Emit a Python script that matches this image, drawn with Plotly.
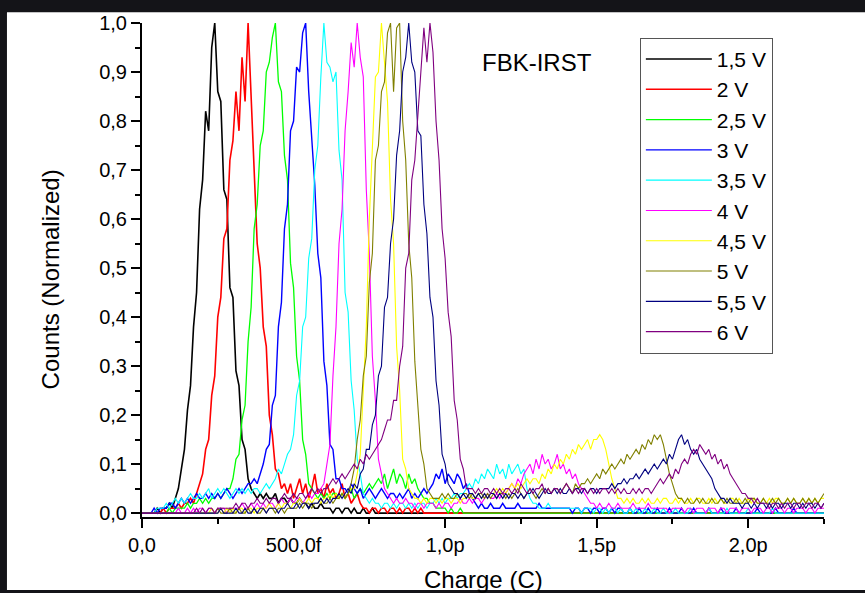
import plotly.graph_objects as go

# Charge bins (fC), 10 fC wide, 0 .. 2250 fC
charge_fC = list(range(0, 2260, 10))

# Normalized counts x100 (one row = 100 fC)
counts_1v5 = [
    0, 0, 0, 0, 0, 1, 0, 1, 1, 2,
    1, 3, 5, 9, 13, 21, 26, 38, 45, 62,
    68, 82, 78, 95, 100, 86, 84, 66, 64, 46,
    44, 29, 26, 15, 13, 7, 5, 4, 3, 4,
    3, 4, 3, 3, 4, 2, 3, 3, 2, 3,
    2, 2, 3, 2, 2, 1, 2, 1, 1, 2,
    1, 1, 1, 0, 1, 1, 0, 1, 1, 0,
    1, 0, 0, 1, 0, 0, 1, 0, 0, 0,
    0, 0, 0, 0, 0, 0, 0, 0, 0, 0,
    0, 0, 0, 0, 0, 0, 0, 0, 0, 0,
    0, 0, 0, 0, 0, 0, 0, 0, 0, 0,
    0, 0, 0, 0, 0, 0, 0, 0, 0, 0,
    0, 0, 0, 0, 0, 0, 0, 0, 0, 0,
    0, 0, 0, 0, 0, 0, 0, 0, 0, 0,
    0, 0, 0, 0, 0, 0, 0, 0, 0, 0,
    0, 0, 0, 0, 0, 0, 0, 0, 0, 0,
    0, 0, 0, 0, 0, 0, 0, 0, 0, 0,
    0, 0, 0, 0, 0, 0, 0, 0, 0, 0,
    0, 0, 0, 0, 0, 0, 0, 0, 0, 0,
    0, 0, 0, 0, 0, 0, 0, 0, 0, 0,
    0, 0, 0, 0, 0, 0, 0, 0, 0, 0,
    0, 0, 0, 0, 0, 0, 0, 0, 0, 0,
    0, 0, 0, 0, 0, 0,
]
counts_2v = [
    0, 0, 0, 0, 0, 0, 0, 1, 0, 1,
    1, 1, 2, 1, 2, 2, 3, 2, 4, 6,
    8, 13, 15, 24, 28, 40, 44, 56, 58, 72,
    76, 86, 78, 93, 84, 100, 85, 72, 55, 50,
    38, 34, 20, 16, 9, 8, 5, 6, 4, 6,
    3, 5, 7, 4, 6, 3, 5, 8, 4, 5,
    3, 6, 4, 5, 3, 4, 6, 3, 4, 2,
    3, 4, 2, 1, 1, 0, 1, 1, 0, 1,
    1, 0, 1, 1, 0, 1, 0, 1, 1, 0,
    1, 0, 1, 0, 0, 0, 0, 0, 0, 0,
    0, 0, 0, 0, 0, 0, 0, 0, 0, 0,
    0, 0, 0, 0, 0, 0, 0, 0, 0, 0,
    0, 0, 0, 0, 0, 0, 0, 0, 0, 0,
    0, 0, 0, 0, 0, 0, 0, 0, 0, 0,
    0, 0, 0, 0, 0, 0, 0, 0, 0, 0,
    0, 0, 0, 0, 0, 0, 0, 0, 0, 0,
    0, 0, 0, 0, 0, 0, 0, 0, 0, 0,
    0, 0, 0, 0, 0, 0, 0, 0, 0, 0,
    0, 0, 0, 0, 0, 0, 0, 0, 0, 0,
    0, 0, 0, 0, 0, 0, 0, 0, 0, 0,
    0, 0, 0, 0, 0, 0, 0, 0, 0, 0,
    0, 0, 0, 0, 0, 0, 0, 0, 0, 0,
    0, 0, 0, 0, 0, 0,
]
counts_2v5 = [
    0, 0, 0, 0, 0, 0, 0, 0, 0, 1,
    0, 1, 1, 1, 1, 2, 1, 2, 2, 3,
    2, 3, 2, 3, 3, 4, 3, 4, 5, 5,
    7, 11, 12, 19, 22, 35, 42, 58, 63, 75,
    78, 90, 92, 97, 100, 88, 86, 73, 68, 51,
    46, 32, 27, 15, 12, 6, 5, 4, 3, 4,
    3, 4, 3, 4, 4, 3, 4, 3, 4, 5,
    3, 4, 5, 4, 5, 6, 5, 6, 7, 6,
    8, 5, 7, 9, 6, 8, 7, 5, 8, 6,
    7, 5, 4, 3, 3, 2, 2, 1, 1, 1,
    1, 0, 1, 0, 0, 1, 0, 0, 0, 0,
    0, 0, 0, 0, 0, 0, 0, 0, 0, 0,
    0, 0, 0, 0, 0, 0, 0, 0, 0, 0,
    0, 0, 0, 0, 0, 0, 0, 0, 0, 0,
    0, 0, 0, 0, 0, 0, 0, 0, 0, 0,
    0, 0, 0, 0, 0, 0, 0, 0, 0, 0,
    0, 0, 0, 0, 0, 0, 0, 0, 0, 0,
    0, 0, 0, 0, 0, 0, 0, 0, 0, 0,
    0, 0, 0, 0, 0, 0, 0, 0, 0, 0,
    0, 0, 0, 0, 0, 0, 0, 0, 0, 0,
    0, 0, 0, 0, 0, 0, 0, 0, 0, 0,
    0, 0, 0, 0, 0, 0, 0, 0, 0, 0,
    0, 0, 0, 0, 0, 0,
]
counts_3v = [
    0, 0, 0, 0, 1, 0, 1, 1, 1, 2,
    2, 1, 2, 3, 2, 3, 2, 3, 4, 3,
    3, 4, 3, 4, 3, 4, 3, 4, 5, 4,
    3, 4, 5, 4, 5, 6, 6, 7, 6, 8,
    10, 13, 14, 22, 24, 38, 43, 58, 63, 78,
    80, 91, 90, 98, 100, 86, 76, 67, 53, 48,
    31, 26, 14, 13, 7, 7, 5, 5, 4, 6,
    5, 4, 5, 3, 4, 5, 4, 3, 4, 5,
    4, 3, 4, 4, 3, 4, 3, 4, 5, 3,
    4, 3, 4, 5, 4, 5, 6, 8, 7, 9,
    6, 8, 7, 6, 8, 7, 5, 6, 4, 3,
    2, 1, 2, 1, 1, 2, 1, 1, 1, 2,
    1, 1, 1, 1, 2, 1, 1, 1, 1, 1,
    1, 2, 1, 1, 1, 1, 1, 1, 1, 1,
    1, 1, 0, 1, 1, 0, 1, 1, 0, 1,
    1, 0, 1, 1, 0, 1, 0, 1, 1, 0,
    0, 1, 0, 0, 1, 0, 0, 1, 0, 0,
    1, 0, 0, 0, 1, 0, 0, 0, 1, 0,
    0, 0, 1, 0, 0, 0, 0, 1, 0, 0,
    0, 1, 0, 0, 0, 0, 1, 0, 0, 0,
    0, 0, 0, 1, 0, 0, 0, 0, 0, 1,
    0, 0, 0, 0, 0, 1, 0, 0, 0, 0,
    0, 0, 0, 0, 0, 0,
]
counts_3v5 = [
    0, 0, 0, 0, 0, 1, 1, 1, 2, 1,
    2, 3, 2, 3, 2, 3, 4, 3, 3, 4,
    3, 4, 5, 3, 4, 5, 4, 5, 4, 3,
    4, 5, 4, 5, 4, 5, 4, 5, 5, 4,
    5, 6, 5, 6, 7, 9, 8, 10, 12, 13,
    16, 24, 27, 38, 40, 52, 56, 70, 75, 89,
    100, 92, 91, 88, 90, 74, 68, 45, 41, 27,
    21, 11, 8, 4, 3, 2, 3, 2, 2, 1,
    2, 2, 1, 2, 1, 2, 2, 1, 2, 1,
    2, 1, 2, 2, 1, 2, 2, 3, 2, 3,
    2, 3, 3, 4, 3, 4, 4, 5, 6, 5,
    7, 6, 8, 7, 9, 8, 7, 10, 8, 9,
    7, 10, 8, 9, 10, 8, 9, 5, 3, 2,
    2, 1, 1, 1, 2, 1, 1, 1, 1, 1,
    1, 1, 1, 1, 1, 0, 1, 1, 1, 0,
    1, 1, 0, 1, 0, 1, 1, 0, 1, 0,
    0, 1, 0, 1, 0, 0, 1, 0, 0, 1,
    0, 0, 1, 0, 0, 0, 1, 0, 0, 0,
    0, 1, 0, 0, 0, 0, 0, 1, 0, 0,
    0, 0, 0, 1, 0, 0, 0, 0, 0, 0,
    1, 0, 0, 0, 0, 0, 0, 0, 1, 0,
    0, 0, 0, 0, 0, 0, 0, 0, 0, 0,
    0, 0, 0, 0, 0, 0,
]
counts_4v = [
    0, 0, 0, 0, 0, 0, 0, 0, 0, 0,
    0, 0, 1, 0, 0, 1, 0, 1, 0, 1,
    1, 0, 1, 1, 0, 1, 1, 1, 0, 1,
    1, 1, 1, 2, 1, 1, 2, 1, 2, 1,
    2, 1, 2, 2, 1, 2, 3, 2, 2, 3,
    2, 3, 3, 2, 3, 4, 3, 4, 4, 5,
    6, 10, 14, 28, 38, 55, 62, 78, 86, 96,
    91, 100, 93, 89, 66, 53, 32, 23, 11, 8,
    5, 4, 3, 2, 3, 2, 2, 3, 2, 2,
    1, 2, 2, 1, 2, 2, 2, 1, 2, 1,
    2, 2, 1, 2, 2, 3, 2, 2, 3, 2,
    3, 3, 2, 3, 4, 3, 3, 4, 3, 4,
    4, 5, 6, 5, 7, 6, 8, 9, 10, 8,
    11, 9, 12, 10, 11, 9, 10, 12, 9, 10,
    8, 9, 7, 8, 6, 5, 4, 3, 2, 2,
    1, 2, 1, 1, 2, 1, 1, 2, 1, 1,
    1, 1, 2, 1, 1, 1, 1, 2, 1, 1,
    1, 1, 1, 1, 0, 1, 1, 1, 1, 0,
    1, 1, 0, 1, 1, 1, 0, 1, 1, 1,
    0, 1, 1, 0, 1, 1, 1, 0, 1, 1,
    1, 0, 1, 1, 1, 0, 1, 1, 0, 1,
    1, 1, 0, 1, 1, 0, 1, 1, 1, 0,
    1, 1, 0, 1, 1, 1,
]
counts_4v5 = [
    0, 0, 0, 0, 0, 0, 0, 0, 0, 0,
    0, 0, 0, 0, 0, 0, 0, 0, 0, 0,
    0, 0, 0, 1, 0, 0, 1, 0, 1, 0,
    1, 0, 1, 1, 0, 1, 1, 0, 1, 1,
    1, 1, 2, 1, 1, 2, 1, 2, 2, 1,
    2, 2, 3, 2, 2, 3, 2, 3, 3, 2,
    3, 3, 4, 3, 4, 3, 4, 3, 4, 5,
    5, 8, 12, 25, 38, 60, 74, 89, 90, 100,
    92, 84, 64, 55, 34, 25, 11, 9, 5, 4,
    3, 3, 2, 3, 2, 3, 3, 2, 3, 2,
    3, 3, 2, 3, 3, 2, 3, 3, 4, 3,
    3, 4, 3, 4, 3, 4, 4, 5, 4, 5,
    4, 5, 6, 5, 6, 5, 6, 7, 6, 7,
    7, 6, 8, 7, 9, 8, 10, 9, 11, 10,
    12, 11, 13, 12, 14, 13, 14, 15, 13, 15,
    15, 16, 15, 13, 10, 7, 5, 3, 3, 2,
    3, 2, 3, 2, 2, 3, 2, 3, 2, 2,
    3, 2, 3, 3, 2, 2, 3, 2, 3, 2,
    2, 3, 2, 3, 3, 2, 2, 3, 2, 3,
    2, 3, 2, 2, 3, 3, 2, 3, 2, 2,
    3, 2, 3, 2, 2, 3, 2, 3, 2, 3,
    3, 2, 2, 3, 2, 3, 2, 2, 3, 2,
    3, 2, 3, 2, 3, 3,
]
counts_5v = [
    0, 0, 0, 0, 0, 0, 0, 0, 0, 0,
    0, 0, 0, 0, 0, 0, 0, 0, 0, 0,
    0, 0, 0, 0, 0, 1, 0, 0, 0, 1,
    0, 0, 1, 0, 0, 1, 0, 1, 0, 0,
    1, 0, 1, 1, 0, 1, 1, 0, 1, 1,
    1, 1, 2, 1, 2, 2, 1, 2, 2, 3,
    2, 2, 3, 2, 3, 3, 4, 3, 4, 6,
    9, 15, 19, 28, 32, 47, 53, 72, 75, 86,
    88, 98, 100, 86, 99, 100, 80, 72, 55, 48,
    31, 22, 13, 10, 5, 4, 3, 3, 3, 4,
    3, 4, 3, 3, 4, 3, 4, 4, 3, 4,
    3, 4, 4, 3, 4, 3, 4, 3, 4, 4,
    3, 4, 3, 4, 5, 4, 3, 4, 5, 4,
    3, 4, 5, 4, 5, 4, 5, 5, 4, 5,
    6, 5, 4, 6, 5, 6, 6, 7, 6, 7,
    8, 7, 9, 8, 9, 10, 9, 10, 11, 10,
    12, 11, 12, 13, 12, 14, 13, 15, 14, 16,
    15, 16, 14, 11, 8, 6, 4, 3, 3, 2,
    3, 2, 2, 3, 2, 3, 2, 2, 3, 2,
    2, 3, 2, 3, 2, 2, 3, 2, 2, 3,
    2, 3, 3, 2, 2, 3, 2, 2, 3, 2,
    3, 2, 2, 3, 2, 3, 2, 2, 3, 2,
    3, 2, 3, 2, 3, 4,
]
counts_5v5 = [
    0, 0, 0, 0, 0, 0, 0, 0, 0, 0,
    0, 0, 0, 0, 0, 0, 0, 0, 0, 0,
    0, 0, 0, 0, 0, 0, 1, 0, 0, 0,
    0, 1, 0, 0, 1, 0, 0, 1, 0, 1,
    1, 0, 1, 1, 1, 0, 1, 1, 2, 1,
    1, 2, 1, 2, 2, 1, 2, 2, 2, 3,
    2, 3, 2, 3, 3, 4, 3, 4, 5, 4,
    6, 5, 8, 9, 13, 13, 18, 20, 28, 30,
    42, 44, 55, 60, 73, 78, 90, 93, 100, 92,
    90, 78, 77, 63, 57, 44, 40, 27, 22, 12,
    10, 6, 5, 4, 4, 3, 4, 3, 4, 4,
    3, 4, 3, 4, 3, 4, 4, 3, 4, 3,
    4, 3, 4, 4, 3, 4, 3, 4, 4, 5,
    4, 3, 4, 5, 4, 4, 5, 4, 5, 4,
    4, 5, 4, 5, 5, 4, 5, 4, 5, 5,
    4, 5, 5, 5, 5, 6, 5, 6, 6, 7,
    6, 7, 7, 8, 7, 8, 9, 8, 9, 10,
    9, 10, 11, 10, 12, 11, 13, 15, 16, 14,
    15, 13, 12, 13, 11, 10, 9, 8, 7, 5,
    4, 3, 3, 2, 3, 2, 2, 2, 1, 2,
    2, 1, 2, 1, 2, 2, 1, 2, 1, 2,
    2, 1, 2, 2, 1, 2, 2, 1, 2, 1,
    2, 2, 1, 2, 1, 2,
]
counts_6v = [
    0, 0, 0, 0, 0, 0, 0, 0, 0, 0,
    0, 0, 0, 0, 0, 0, 0, 0, 1, 0,
    1, 0, 1, 1, 0, 1, 1, 1, 1, 1,
    1, 2, 1, 2, 2, 1, 2, 2, 3, 2,
    2, 3, 2, 3, 3, 2, 3, 4, 3, 3,
    4, 3, 4, 4, 3, 4, 5, 4, 5, 4,
    5, 5, 6, 7, 6, 7, 8, 7, 8, 9,
    10, 9, 11, 10, 12, 11, 12, 13, 14, 15,
    17, 19, 19, 23, 23, 30, 34, 50, 53, 68,
    72, 82, 90, 99, 92, 100, 94, 80, 72, 58,
    52, 41, 36, 23, 19, 11, 9, 5, 5, 5,
    4, 5, 4, 5, 5, 4, 5, 4, 5, 4,
    5, 5, 4, 5, 4, 6, 5, 4, 5, 4,
    5, 5, 6, 4, 5, 4, 5, 5, 4, 5,
    6, 5, 4, 5, 4, 5, 5, 4, 5, 4,
    5, 4, 5, 5, 4, 5, 4, 5, 4, 5,
    4, 4, 5, 4, 5, 4, 5, 5, 4, 5,
    6, 7, 6, 7, 8, 7, 9, 8, 10, 11,
    10, 12, 13, 12, 14, 13, 12, 13, 11, 12,
    10, 11, 9, 10, 8, 7, 6, 5, 4, 4,
    3, 3, 2, 3, 2, 2, 2, 1, 2, 2,
    1, 2, 1, 2, 2, 1, 2, 2, 1, 2,
    2, 1, 2, 2, 1, 2,
]

series_names = ["1,5 V", "2 V", "2,5 V", "3 V", "3,5 V",
                "4 V", "4,5 V", "5 V", "5,5 V", "6 V"]
series_values = [counts_1v5, counts_2v, counts_2v5, counts_3v, counts_3v5,
                 counts_4v, counts_4v5, counts_5v, counts_5v5, counts_6v]
series_colors = ["#000000", "#FF0000", "#00FF00", "#0000FF", "#00FFFF",
                 "#FF00FF", "#FFFF00", "#808000", "#000080", "#800080"]
series_widths = [1.6, 1.6, 1.3, 1.4, 1.1, 1.1, 1.1, 1.1, 1.1, 1.1]

x_tick_vals = [0, 500, 1000, 1500, 2000]
x_tick_text = ["0,0", "500,0f", "1,0p", "1,5p", "2,0p"]
x_minor_vals = [250, 750, 1250, 1750, 2250]
y_tick_vals = [0.0, 0.1, 0.2, 0.3, 0.4, 0.5, 0.6, 0.7, 0.8, 0.9, 1.0]
y_tick_text = ["0,0", "0,1", "0,2", "0,3", "0,4", "0,5", "0,6", "0,7", "0,8", "0,9", "1,0"]
y_minor_vals = [0.05, 0.15, 0.25, 0.35, 0.45, 0.55, 0.65, 0.75, 0.85, 0.95]

FONT = "Arial, Liberation Sans, sans-serif"

fig = go.Figure()
for name, vals, color, w in zip(series_names, series_values, series_colors, series_widths):
    fig.add_trace(go.Scatter(
        x=charge_fC[:len(vals)],
        y=[v / 100 for v in vals],
        mode="lines",
        name=name,
        line=dict(color=color, width=w),
    ))

axis_common = dict(
    showline=True, linecolor="black", linewidth=2,
    ticks="outside", ticklen=9, tickwidth=2, tickcolor="black",
    showgrid=False, zeroline=False,
    tickfont=dict(family=FONT, size=20, color="black"),
)

fig.update_layout(
    width=865, height=593,
    margin=dict(l=142, r=41, t=18, b=76),
    paper_bgcolor="#141418",
    plot_bgcolor="white",
    showlegend=True,
    legend=dict(
        x=0.730, y=0.970, xanchor="left", yanchor="top",
        bgcolor="white", bordercolor="#555555", borderwidth=1,
        font=dict(family=FONT, size=21, color="black"),
        tracegroupgap=0, itemwidth=66,
    ),
    xaxis=dict(
        range=[0, 2250],
        tickmode="array", tickvals=x_tick_vals, ticktext=x_tick_text,
        minor=dict(tickvals=x_minor_vals, ticks="outside", ticklen=5,
                   tickwidth=2, tickcolor="black", showgrid=False),
        **axis_common,
    ),
    yaxis=dict(
        range=[-0.008, 1.0],
        tickmode="array", tickvals=y_tick_vals, ticktext=y_tick_text,
        minor=dict(tickvals=y_minor_vals, ticks="outside", ticklen=5,
                   tickwidth=2, tickcolor="black", showgrid=False),
        **axis_common,
    ),
    shapes=[dict(
        type="rect", xref="paper", yref="paper",
        x0=-0.198, x1=1.1, y0=-0.148, y1=1.022,
        fillcolor="white", line=dict(width=0), layer="below",
    )],
    annotations=[
        dict(text="FBK-IRST", xref="paper", yref="paper", x=0.579, y=0.920,
             xanchor="center", yanchor="middle", showarrow=False,
             font=dict(family=FONT, size=24, color="black")),
        dict(text="Counts (Normalized)", xref="paper", yref="paper", x=0, y=0.481,
             xshift=-92, xanchor="center", yanchor="middle", textangle=-90,
             showarrow=False, font=dict(family=FONT, size=24, color="black")),
        dict(text="Charge (C)", xref="paper", yref="paper", x=0.5, y=0,
             yshift=-47, xanchor="center", yanchor="top", showarrow=False,
             font=dict(family=FONT, size=24, color="black")),
    ],
)

fig.write_html("out.html")
